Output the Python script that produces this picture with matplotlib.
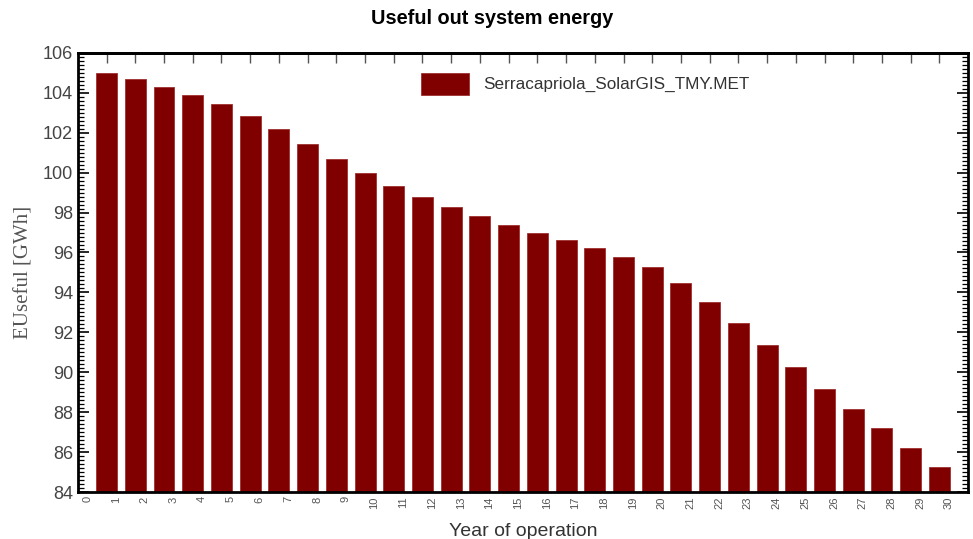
import numpy as np
import matplotlib.pyplot as plt
from matplotlib.ticker import MultipleLocator

years = np.arange(1, 31)
energy = [105.0, 104.68, 104.3, 103.88, 103.43, 102.83, 102.17, 101.43, 100.7, 99.97,
          99.35, 98.8, 98.3, 97.84, 97.39, 96.99, 96.64, 96.24, 95.78, 95.25,
          94.47, 93.5, 92.47, 91.35, 90.25, 89.17, 88.17, 87.2, 86.23, 85.28]
tick_labels = [str(i) for i in range(0, 31)]

plt.rcParams['font.family'] = ['Liberation Sans', 'DejaVu Sans']

fig = plt.figure(figsize=(9.73, 5.39), dpi=100)
ax = fig.add_axes([0.080, 0.087, 0.915, 0.815])

ax.bar(years, energy, width=0.73, color='#800000', edgecolor='#a03030', linewidth=0.6,
       label='Serracapriola_SolarGIS_TMY.MET')

ax.set_xlim(0, 31)
ax.set_ylim(84, 106)

ax.yaxis.set_major_locator(MultipleLocator(2))
ax.yaxis.set_minor_locator(MultipleLocator(0.2))
ax.tick_params(axis='y', which='major', direction='in', length=8, width=1.2,
               left=True, right=True, labelsize=13, labelcolor='#444444')
ax.tick_params(axis='y', which='minor', direction='in', length=4, width=0.9,
               left=True, right=True)

# bottom labels (rotated) slightly offset from the bar centres
ax.set_xticks(np.arange(0, 31) + 0.33)
ax.set_xticklabels(tick_labels, rotation=90, fontsize=8, color='#555555')
ax.tick_params(axis='x', which='major', length=0, pad=3, top=False)

# top tick marks at the bar centres
sec = ax.secondary_xaxis('top')
sec.set_xticks(years)
sec.set_xticklabels([])
sec.tick_params(direction='in', length=7, width=1.0, color='#555555')
sec.spines['top'].set_linewidth(2)

for s in ax.spines.values():
    s.set_linewidth(2)

fig.text(0.506, 1 - 18 / 539, 'Useful out system energy', fontsize=14.3,
         fontweight='bold', ha='center', va='center')
ax.set_xlabel('Year of operation', fontsize=14, color='#333333', labelpad=10)
ax.set_ylabel('EUseful [GWh]', fontsize=15, color='#555555', family='Liberation Serif')
ax.yaxis.set_label_coords(-0.05, 0.5)

ax.legend(loc='upper center', bbox_to_anchor=(0.57, 0.99), frameon=False, fontsize=12.3,
          handlelength=2.8, handleheight=1.6, labelcolor='#333333')

fig.savefig('out.png', dpi=100)
